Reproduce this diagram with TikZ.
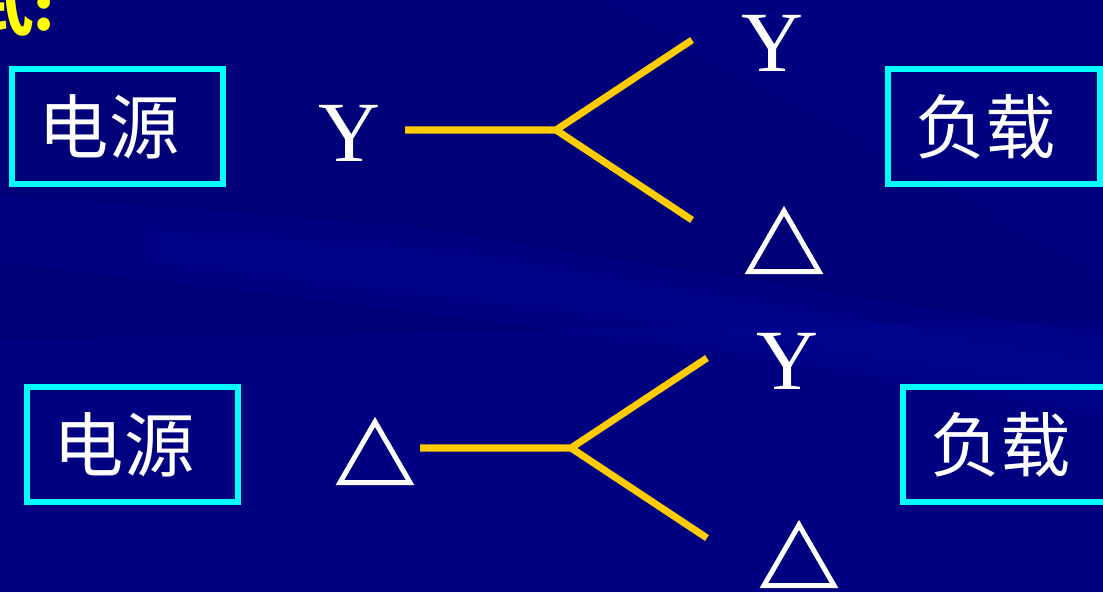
\documentclass[tikz,border=0pt]{standalone}
\usepackage{fontspec}
\setmainfont{Liberation Serif}
\newfontfamily\cjk{Noto Sans CJK SC}
\newfontfamily\trifont[FakeBold=2.5]{Noto Sans CJK SC}
\usetikzlibrary{positioning}
\definecolor{bgnavy}{RGB}{0,0,120}
\definecolor{bgstreak}{RGB}{0,8,168}
\definecolor{boxcyan}{RGB}{0,255,255}
\definecolor{wireamber}{RGB}{255,204,0}
\definecolor{titleyellow}{RGB}{255,255,0}
\tikzset{
  unitbox/.style={rectangle, draw=boxcyan, line width=4.2pt,
    minimum width=5.28cm, minimum height=2.88cm, inner sep=0pt,
    text=white, font=\cjk\fontsize{50}{50}\selectfont,
    execute at end node={\hspace{0.42cm}}},
  sym/.style={text=white, inner sep=0pt, font=\fontsize{61}{61}\selectfont},
  tri/.style={text=white, inner sep=0pt, font=\trifont\fontsize{57}{57}\selectfont},
  wire/.style={draw=wireamber, line width=5pt},
  streak/.style={fill=bgstreak, fill opacity=0.18, draw=none}
}

\begin{document}
\begin{tikzpicture}[x=0.025cm, y=-0.025cm]
  % Background
  \clip (0,0) rectangle (1103,592);
  \fill[bgnavy] (0,0) rectangle (1103,592);
  \fill[streak] (0,195) -- (400,225) -- (1103,335) -- (1103,415)
    -- (700,348) -- (300,298) -- (0,262) -- cycle;
  \fill[streak] (150,230) -- (450,250) -- (1103,360) -- (1103,395)
    -- (650,322) -- (150,262) -- cycle;
  \fill[streak] (600,0) -- (1103,0) -- (1103,280) -- (950,190) -- cycle;
  \fill[streak] (0,340) -- (1103,320) -- (1103,592) -- (0,592) -- cycle;

  % Heading, cut by the page edge
  \node[anchor=base east, inner sep=0pt, text=titleyellow,
    font=\cjk\bfseries\fontsize{43}{43}\selectfont] (ttl) at (55,30) {式:};

  % Y source
  \node[unitbox] (src1) at (117.5,126.5) {电源};
  \node[sym] (ysrc1) at (349,133) {Y};
  \coordinate (a1) at (405,130);
  \coordinate (j1) at (556,130);
  \coordinate (u1) at (692,40);
  \coordinate (l1) at (692,220);
  \node[sym] (yld1) at (772,43) {Y};
  \node[tri] (dld1) at (784,241) {△};
  \node[unitbox] (ld1) at (994,126.5) {负载};

  % Delta source
  \node[unitbox] (src2) at (132.5,444.5) {电源};
  \node[tri] (dsrc2) at (375,452) {△};
  \coordinate (a2) at (420,448);
  \coordinate (j2) at (571,448);
  \coordinate (u2) at (707,358);
  \coordinate (l2) at (707,538);
  \node[sym] (yld2) at (787,361) {Y};
  \node[tri] (dld2) at (799,555) {△};
  \node[unitbox] (ld2) at (1009,444.5) {负载};

  % Connections
  \draw[wire] (a1) -- (j1) -- (u1);
  \draw[wire] (j1) -- (l1);
  \draw[wire] (a2) -- (j2) -- (u2);
  \draw[wire] (j2) -- (l2);
\end{tikzpicture}
\end{document}
